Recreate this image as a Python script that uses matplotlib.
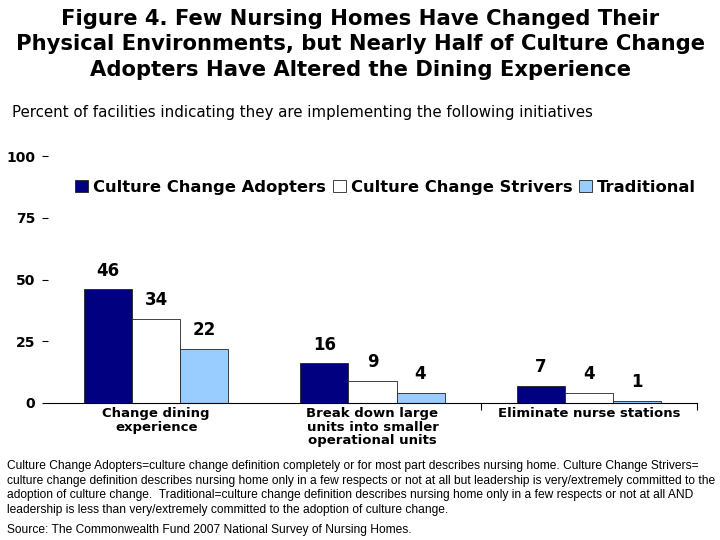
import matplotlib.pyplot as plt
import numpy as np

categories = ["Change dining\nexperience",
              "Break down large\nunits into smaller\noperational units",
              "Eliminate nurse stations"]
series_names = ["Culture Change Adopters", "Culture Change Strivers", "Traditional"]
adopters = [46, 16, 7]
strivers = [34, 9, 4]
traditional = [22, 4, 1]
colors = ["#000080", "#FFFFFF", "#99CCFF"]

title = ("Figure 4. Few Nursing Homes Have Changed Their\n"
         "Physical Environments, but Nearly Half of Culture Change\n"
         "Adopters Have Altered the Dining Experience")
subtitle = "Percent of facilities indicating they are implementing the following initiatives"
footnote = ("Culture Change Adopters=culture change definition completely or for most part describes nursing home. Culture Change Strivers=\n"
            "culture change definition describes nursing home only in a few respects or not at all but leadership is very/extremely committed to the\n"
            "adoption of culture change.  Traditional=culture change definition describes nursing home only in a few respects or not at all AND\n"
            "leadership is less than very/extremely committed to the adoption of culture change.")
source = "Source: The Commonwealth Fund 2007 National Survey of Nursing Homes."

BOLD = "DejaVu Sans"

fig = plt.figure(figsize=(7.2, 5.4), dpi=100)
ax = fig.add_axes([48 / 720, 1 - 403 / 540, (697 - 48) / 720, (403 - 156) / 540])

x = np.arange(len(categories))
w = 0.222
for i, (vals, c, name) in enumerate(zip([adopters, strivers, traditional], colors, series_names)):
    pos = x + (i - 1) * w
    ax.bar(pos, vals, w, color=c, edgecolor="#222222", linewidth=0.6, label=name)
    for p, v in zip(pos, vals):
        ax.annotate(str(v), (p, v), xytext=(0, 7), textcoords="offset points",
                    ha="center", va="bottom", fontsize=12, fontweight="bold",
                    family=BOLD)

ax.set_xlim(-0.5, 2.5)
ax.set_ylim(0, 100)
ax.set_yticks([0, 25, 50, 75, 100])
ax.set_yticklabels(["0", "25", "50", "75", "100"], fontsize=10, fontweight="bold",
                   family=BOLD)
ax.tick_params(axis="y", length=4, width=0.8, pad=5)
ax.set_xticks(x)
ax.set_xticklabels(categories, fontsize=9.5, fontweight="bold", family=BOLD,
                   va="top", linespacing=1.05)
ax.tick_params(axis="x", length=0, pad=3)
ax.set_xticks([1.5, 2.5], minor=True)
ax.tick_params(axis="x", which="minor", length=5, width=0.8)
for s in ["top", "right", "left"]:
    ax.spines[s].set_visible(False)
ax.spines["bottom"].set_linewidth(0.8)

ax.legend(loc="upper left", bbox_to_anchor=(0.032, 0.93), ncol=3, frameon=False,
          prop={"family": BOLD, "weight": "bold", "size": 11.8},
          handlelength=0.8, handleheight=0.8, handletextpad=0.3, columnspacing=0.4,
          borderaxespad=0)

fig.text(0.5, 1 - 9 / 540, title, ha="center", va="top", fontsize=15.2, fontweight="bold",
         family=BOLD, linespacing=1.33)
fig.text(12 / 720, 1 - 112 / 540, subtitle, ha="left", va="center", fontsize=10.8,
         family="DejaVu Sans")
fig.text(7 / 720, 1 - 460 / 540, footnote, ha="left", va="top", fontsize=8.65,
         family="Liberation Sans", linespacing=1.3)
fig.text(7 / 720, 1 - 530 / 540, source, ha="left", va="center", fontsize=8.65,
         family="Liberation Sans")

fig.savefig("out.png", dpi=100)
